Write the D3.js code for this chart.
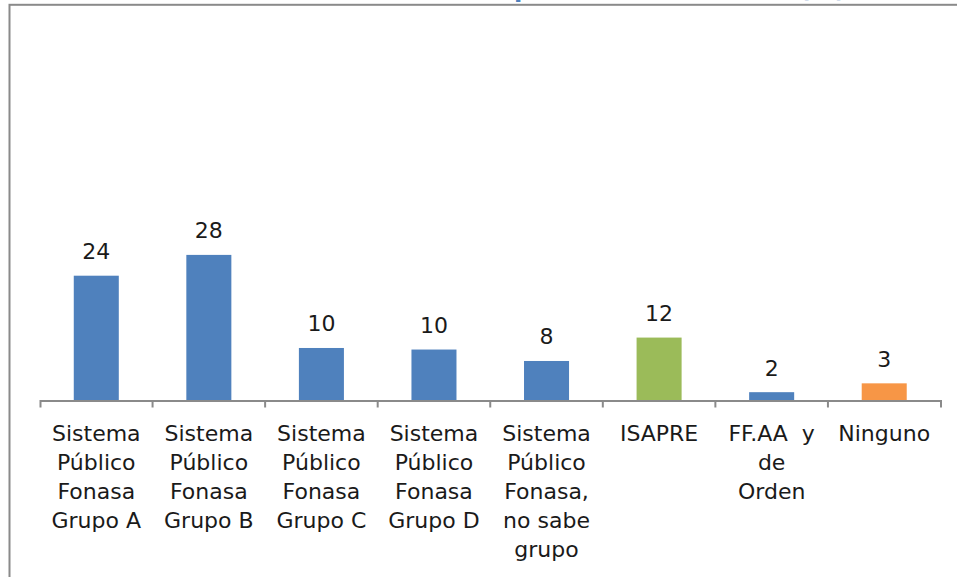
<!DOCTYPE html>
<html>
<head>
<meta charset="utf-8">
<script src="https://cdn.jsdelivr.net/npm/d3@7"></script>
<style>
  html, body { margin: 0; padding: 0; background: #fff; overflow: hidden; }
  svg { display: block; }
</style>
</head>
<body>
<svg id="chart" width="957" height="577"></svg>
<script>
// ---- data ----
const titleText = "Distribución del sistema previsional de salud (%)";
const categories = ["Grupo A", "Grupo B", "Grupo C", "Grupo D", "No sabe", "ISAPRE", "FFAA", "Ninguno"];
const categoryLines = [
  ["Sistema", "Público", "Fonasa", "Grupo A"],
  ["Sistema", "Público", "Fonasa", "Grupo B"],
  ["Sistema", "Público", "Fonasa", "Grupo C"],
  ["Sistema", "Público", "Fonasa", "Grupo D"],
  ["Sistema", "Público", "Fonasa,", "no sabe", "grupo"],
  ["ISAPRE"],
  ["FF.AA  y", "de", "Orden"],
  ["Ninguno"]
];
const values = [24, 28, 10.1, 9.8, 7.6, 12.1, 1.6, 3.3];
const barColors = ["#4F81BD", "#4F81BD", "#4F81BD", "#4F81BD", "#4F81BD", "#9BBB59", "#4F81BD", "#F79646"];

// ---- layout ----
const svg = d3.select("#chart");
const font = "'DejaVu Sans', sans-serif";
const baseY = 400.5;

const x = d3.scaleBand().domain(categories).range([40, 940.5]).padding(0);
const y = d3.scaleLinear().domain([0, 60]).range([baseY, baseY - 312]);

// frame
svg.append("rect")
  .attr("x", 9.5).attr("y", 4.8)
  .attr("width", 1000).attr("height", 1000)
  .attr("fill", "none").attr("stroke", "#8a8a8a").attr("stroke-width", 2);

// title (sits above the visible area; only descenders peek in)
const title = svg.append("text")
  .attr("x", 846).attr("y", -3)
  .attr("text-anchor", "end")
  .attr("font-family", font).attr("font-weight", "bold")
  .attr("font-size", 26).attr("fill", "#4F81BD")
  .text(titleText);
(function () {
  const node = title.node();
  const idx = titleText.indexOf("p");
  for (let k = 0; k < 6; k++) {
    const px = node.getStartPositionOfChar(idx).x;
    const cur = +title.attr("font-size");
    title.attr("font-size", cur * (846 - 514) / (846 - px));
  }
})();

const bw = x.bandwidth();

// bars
svg.append("g").selectAll("rect")
  .data(categories)
  .join("rect")
  .attr("x", (d) => x(d) + bw * 0.3)
  .attr("width", bw * 0.4)
  .attr("y", (d, i) => y(values[i]))
  .attr("height", (d, i) => baseY - y(values[i]))
  .attr("fill", (d, i) => barColors[i]);

// axis
const axis = d3.axisBottom(x).tickSize(0).tickSizeOuter(7).tickFormat("");
const gAxis = svg.append("g").attr("transform", `translate(0,${baseY})`).call(axis);
gAxis.select(".domain").attr("stroke", "#8a8a8a").attr("stroke-width", 2);
gAxis.selectAll(".tick").remove();
svg.append("g").selectAll("line")
  .data(categories.slice(1))
  .join("line")
  .attr("x1", (d) => x(d)).attr("x2", (d) => x(d))
  .attr("y1", baseY).attr("y2", baseY + 7)
  .attr("stroke", "#8a8a8a").attr("stroke-width", 2);

// value labels
const fmt = d3.format(".0f");
svg.append("g").selectAll("text")
  .data(categories)
  .join("text")
  .attr("x", (d) => x(d) + bw / 2)
  .attr("y", (d, i) => y(values[i]) - 16.5)
  .attr("text-anchor", "middle")
  .attr("font-family", font).attr("font-size", 22)
  .attr("fill", "#1a1a1a")
  .text((d, i) => fmt(values[i]));

// category labels
const gCat = svg.append("g");
categories.forEach((c, i) => {
  const t = gCat.append("text")
    .attr("text-anchor", "middle")
    .attr("font-family", font).attr("font-size", 22)
    .attr("fill", "#1a1a1a")
    .attr("xml:space", "preserve")
    .style("white-space", "pre");
  categoryLines[i].forEach((line, j) => {
    t.append("tspan")
      .attr("x", x(c) + bw / 2)
      .attr("y", 441 + j * 29)
      .text(line);
  });
});
</script>
</body>
</html>
